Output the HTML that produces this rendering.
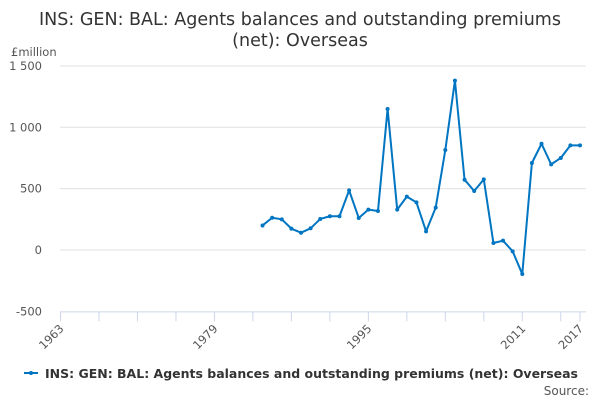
<!DOCTYPE html>
<html><head><meta charset="utf-8"><style>
body{margin:0;background:#fff;font-family:"DejaVu Sans","Liberation Sans",sans-serif;}
svg text{font-family:"DejaVu Sans","Liberation Sans",sans-serif;}
</style></head><body>
<svg id="c" width="600" height="400" xmlns="http://www.w3.org/2000/svg">
<text x="300" y="25" text-anchor="middle" font-size="17.5" textLength="522" lengthAdjust="spacingAndGlyphs" fill="#333">INS: GEN: BAL: Agents balances and outstanding premiums</text>
<text x="300" y="46" text-anchor="middle" font-size="17.5" fill="#333">(net): Overseas</text>
<text x="11" y="56" font-size="11.5" fill="#555">£million</text>
<g id="grid"></g><g id="xaxis"></g><g id="series"></g>
<line x1="24" y1="373" x2="38" y2="373" stroke="#0075c2" stroke-width="2"/>
<circle cx="31" cy="373" r="2" fill="#0075c2"/>
<text x="45" y="378" font-size="12.5" font-weight="bold" textLength="533" lengthAdjust="spacingAndGlyphs" fill="#333">INS: GEN: BAL: Agents balances and outstanding premiums (net): Overseas</text>
<text x="589" y="395" text-anchor="end" font-size="12" fill="#555">Source:</text>
</svg>
<script>
const years=[1984,1985,1986,1987,1988,1989,1990,1991,1992,1993,1994,1995,1996,1997,1998,1999,2000,2001,2002,2003,2004,2005,2006,2007,2008,2009,2010,2011,2012,2013,2014,2015,2016,2017];
const values=[200,263,250,174,141,177,253,275,275,486,261,329,318,1149,329,435,388,152,345,815,1380,573,481,576,57,76,-11,-196,709,866,698,750,853,853];
const yTicks=[-500,0,500,1000,1500];
const yTickLabels=["-500","0","500","1 000","1 500"];
const xTickLabels=[1963,1979,1995,2011,2017];
const NS="http://www.w3.org/2000/svg";
const X=y=>60.5+(y-1963)*(580-60.5)/54;
const Y=v=>250-v*0.1227;
function mk(t,a,p){const e=document.createElementNS(NS,t);for(const k in a)e.setAttribute(k,a[k]);p.appendChild(e);return e;}
const g=document.getElementById('grid'),xa=document.getElementById('xaxis'),s=document.getElementById('series');
yTicks.forEach((v,i)=>{
 if(v!==-500){const l=mk('line',{x1:60,x2:586,y1:Y(v),y2:Y(v),stroke:'#e0e0e0','stroke-width':1},g);
 
 }
 const t=mk('text',{x:42,y:Y(v)+4,'text-anchor':'end','font-size':11.5,fill:'#555'},g);t.textContent=yTickLabels[i];
 
 
});
const ax=mk('line',{x1:60,x2:586,y1:Y(-500)+0.5,y2:Y(-500)+0.5,stroke:'#ccd6eb','stroke-width':1},xa);


for(let yr=1963;yr<=2017;yr+=4){const tk=mk('line',{x1:X(yr),x2:X(yr),y1:Y(-500),y2:Y(-500)+10,stroke:'#ccd6eb'},xa);
 
 }
const tk2=mk('line',{x1:X(2017),x2:X(2017),y1:Y(-500),y2:Y(-500)+10,stroke:'#ccd6eb'},xa);


xTickLabels.forEach(yr=>{const x=X(yr)+4,y=Y(-500)+18;
 const t=mk('text',{x:x,y:y,'text-anchor':'end','font-size':11.5,fill:'#555',transform:`rotate(-45 ${x} ${y})`},xa);t.textContent=yr;
 
 });
const pts=years.map((yr,i)=>X(yr)+','+Y(values[i])).join(' ');
const pl=mk('polyline',{points:pts,fill:'none',stroke:'#0075c2','stroke-width':2,'stroke-linejoin':'round'},s);


years.forEach((yr,i)=>{const c=mk('circle',{cx:X(yr),cy:Y(values[i]),r:2,fill:'#0075c2'},s);
 
 });
</script>
</body></html>
